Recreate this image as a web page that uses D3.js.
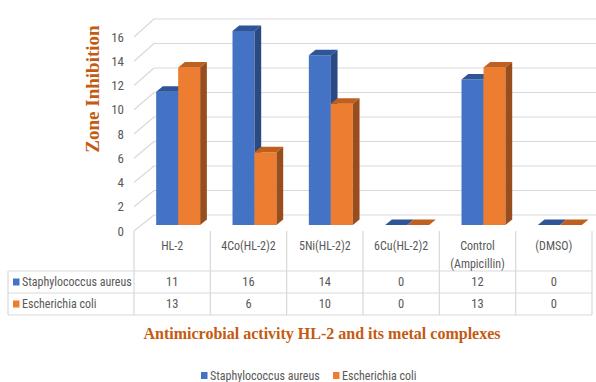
<!DOCTYPE html>
<html>
<head>
<meta charset="utf-8">
<script src="https://cdn.jsdelivr.net/npm/d3@7"></script>
<style>
html,body{margin:0;padding:0;background:#fff;}
svg{display:block;}
</style>
</head>
<body>
<svg id="chart" width="596" height="382"></svg>
<script>
const categories = ["HL-2", "4Co(HL-2)2", "5Ni(HL-2)2", "6Cu(HL-2)2", "Control\n(Ampicillin)", "(DMSO)"];
const seriesNames = ["Staphylococcus aureus", "Escherichia coli"];
const staphValues = [11, 16, 14, 0, 12, 0];
const ecoliValues = [13, 6, 10, 0, 13, 0];
const yTicks = [0, 2, 4, 6, 8, 10, 12, 14, 16];
const titleText = "Antimicrobial activity HL-2 and its metal complexes";
const yAxisTitle = "Zone Inhibition";

const series = [
  {name: seriesNames[0], values: staphValues, front: "#4472c4", top: "#2f5597", side: "#2b4a84"},
  {name: seriesNames[1], values: ecoliValues, front: "#ed7d31", top: "#c0601f", side: "#9a4d1c"}
];

const svg = d3.select("#chart");
const narrow = "'Liberation Sans Narrow','Arial Narrow','Roboto Condensed',sans-serif";
const textGray = "#595959";
const lineGray = "#d9d9d9";
const accent = "#c55a11";

// geometry
const plotLeft = 134, plotRight = 592;
const depthX = 20, depthY = -16;
const barDX = 6.7, barDY = -5.5;
const x = d3.scaleBand().domain(d3.range(categories.length)).range([plotLeft, plotRight]);
const yFront = d3.scaleLinear().domain([0, 16]).range([231, 37]);
const yBack = d3.scaleLinear().domain([0, 16]).range([215, 19]);
const yBar = d3.scaleLinear().domain([0, 16]).range([225, 31]);

// back wall gridlines
const grid = svg.append("g");
grid.selectAll("line.h").data(yTicks).join("line")
  .attr("x1", plotLeft + depthX).attr("x2", 596)
  .attr("y1", d => yBack(d)).attr("y2", d => yBack(d))
  .attr("stroke", lineGray).attr("stroke-width", 1.2);
grid.selectAll("line.d").data(yTicks).join("line")
  .attr("x1", plotLeft).attr("y1", d => yFront(d))
  .attr("x2", plotLeft + depthX).attr("y2", d => yBack(d))
  .attr("stroke", lineGray).attr("stroke-width", 1.2);

// y tick labels
svg.append("g").selectAll("text").data(yTicks).join("text")
  .attr("x", 124).attr("y", d => yFront(d)).attr("dy", "0.35em")
  .attr("text-anchor", "end")
  .attr("font-family", narrow).attr("font-size", 13)
  .attr("fill", textGray).text(d => d);

// y axis title
svg.append("text")
  .attr("transform", "translate(99,89) rotate(-90)")
  .attr("text-anchor", "middle")
  .attr("font-family", "'Liberation Serif','Times New Roman',serif")
  .attr("font-weight", "bold").attr("font-size", 19)
  .attr("fill", accent).text(yAxisTitle);

// bars
const bw = 22;
const barsG = svg.append("g");
categories.forEach((c, i) => {
  const cx = x(i) + x.bandwidth() / 2 + 6;
  series.forEach((s, j) => {
    const v = s.values[i];
    const x0 = cx - bw + j * bw, x1 = x0 + bw;
    const yb = yBar(0), yt = yBar(v);
    const g = barsG.append("g");
    if (v > 0) {
      g.append("rect").attr("x", x0).attr("y", yt).attr("width", bw).attr("height", yb - yt).attr("fill", s.front);
    }
    g.append("path").attr("d", `M${x0},${yt}L${x0 + barDX},${yt + barDY}L${x1 + barDX},${yt + barDY}L${x1},${yt}Z`).attr("fill", s.top);
    if (v > 0) {
      g.append("path").attr("d", `M${x1},${yt}L${x1 + barDX},${yt + barDY}L${x1 + barDX},${yb + barDY}L${x1},${yb}Z`).attr("fill", s.side);
    }
  });
});

// data table
const tbl = svg.append("g");
const rowY = [271, 293, 315];
const tableLeft = 8;
rowY.forEach(yy => tbl.append("line").attr("x1", tableLeft).attr("x2", plotRight).attr("y1", yy).attr("y2", yy).attr("stroke", lineGray).attr("stroke-width", 1.2));
tbl.append("line").attr("x1", tableLeft).attr("x2", tableLeft).attr("y1", 271).attr("y2", 315).attr("stroke", lineGray).attr("stroke-width", 1.2);
const seps = d3.range(categories.length + 1).map(i => i < categories.length ? x(i) : plotRight);
tbl.selectAll("line.v").data(seps).join("line")
  .attr("x1", d => d).attr("x2", d => d).attr("y1", 231).attr("y2", 315)
  .attr("stroke", lineGray).attr("stroke-width", 1.2);

// category labels
categories.forEach((c, i) => {
  const lines = c.split("\n");
  const t = tbl.append("text").attr("x", x(i) + x.bandwidth() / 2).attr("y", 246)
    .attr("text-anchor", "middle").attr("font-family", narrow).attr("font-size", 12).attr("fill", textGray);
  lines.forEach((ln, k) => t.append("tspan").attr("x", x(i) + x.bandwidth() / 2).attr("y", 246 + k * 18).attr("dy", "0.35em").text(ln));
});

// rows
series.forEach((s, j) => {
  const cy = (rowY[j] + rowY[j + 1]) / 2;
  tbl.append("rect").attr("x", 13).attr("y", cy - 3.5).attr("width", 6.5).attr("height", 7).attr("fill", s.front);
  tbl.append("text").attr("x", 22).attr("y", cy).attr("dy", "0.35em")
    .attr("font-family", narrow).attr("font-size", 12).attr("fill", textGray).text(s.name);
  s.values.forEach((v, i) => {
    tbl.append("text").attr("x", x(i) + x.bandwidth() / 2).attr("y", cy).attr("dy", "0.35em")
      .attr("text-anchor", "middle").attr("font-family", narrow).attr("font-size", 12.5).attr("fill", textGray).text(v);
  });
});

// title
svg.append("text").attr("x", 322).attr("y", 333).attr("dy", "0.35em")
  .attr("text-anchor", "middle")
  .attr("font-family", "'Liberation Serif','Times New Roman',serif")
  .attr("font-weight", "bold").attr("font-size", 16)
  .attr("fill", accent).text(titleText);

// legend
const legendItems = [{s: series[0], x: 201}, {s: series[1], x: 333}];
legendItems.forEach(li => {
  svg.append("rect").attr("x", li.x).attr("y", 372).attr("width", 6.5).attr("height", 7).attr("fill", li.s.front);
  svg.append("text").attr("x", li.x + 9).attr("y", 375.5).attr("dy", "0.35em")
    .attr("font-family", narrow).attr("font-size", 12).attr("fill", textGray).text(li.s.name);
});
</script>
</body>
</html>
